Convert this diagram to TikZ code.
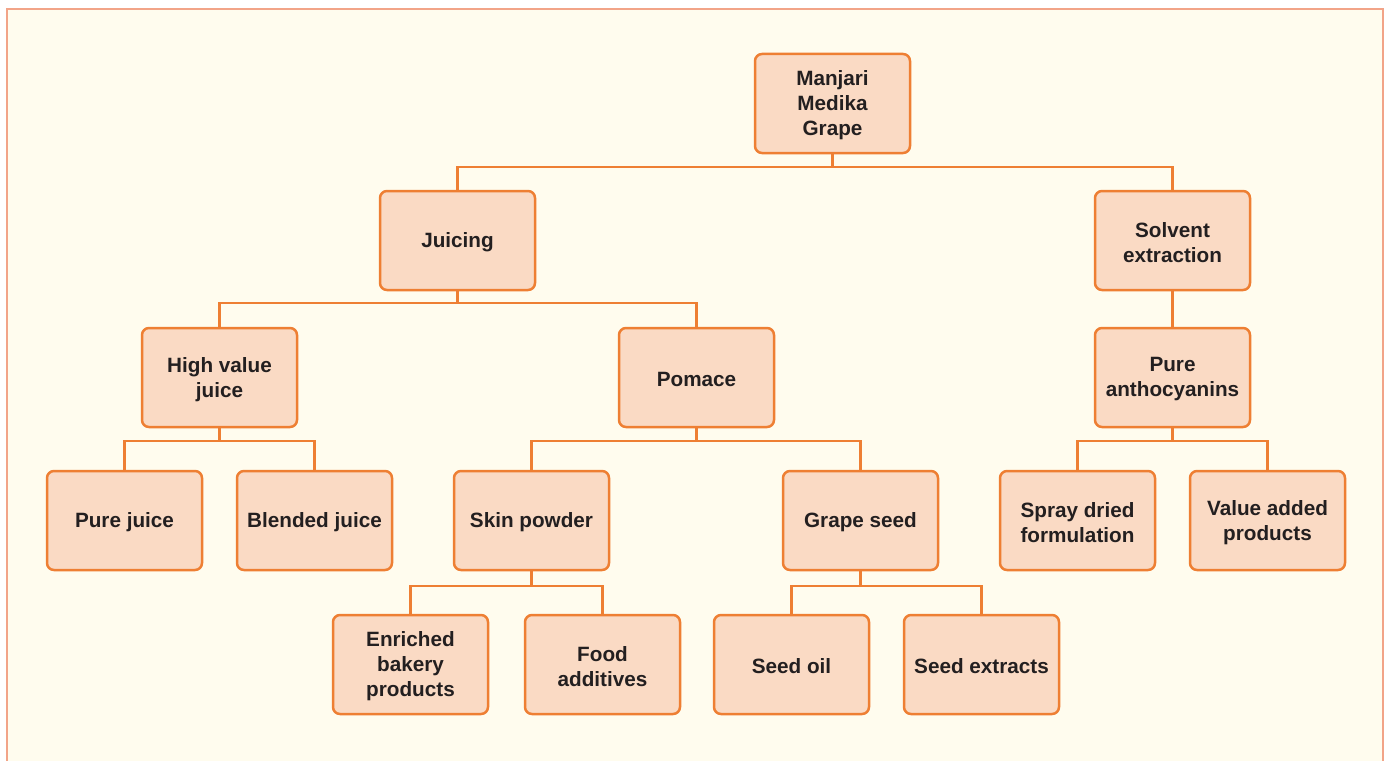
\documentclass[tikz,border=0pt]{standalone}
\usepackage{fontspec}
\setmainfont{Liberation Sans}
\definecolor{bg}{HTML}{FFFCEE}
\definecolor{frame}{HTML}{F2A488}
\definecolor{boxfill}{HTML}{FADAC4}
\definecolor{boxline}{HTML}{EE7F33}
\definecolor{txt}{HTML}{231F20}
\begin{document}
\begin{tikzpicture}[x=1pt,y=-1pt,
  box/.style={draw=boxline,fill=boxfill,line width=2.5pt,rounded corners=7pt,
    minimum width=155pt,minimum height=99pt,inner sep=2pt,align=center,
    text width=150pt,text=txt,font=\fontsize{20.7}{25}\selectfont\bfseries},
  lbl/.style={text=txt,align=center,font=\fontsize{20.7}{25}\selectfont\bfseries},
  link/.style={draw=boxline,line width=2.5pt}]
\useasboundingbox (0,0) rectangle (1388,760);
\fill[white] (0,0) rectangle (1388,760);
\fill[bg] (7,9) rectangle (1383,770);
\draw[frame,line width=2pt] (7,770) -- (7,9) -- (1383,9) -- (1383,770);

\node[box] (root) at (832.5,103.5) {};
\node[box] (juic) at (457.5,240.5) {};
\node[box] (solv) at (1172.5,240.5) {};
\node[box] (hvj) at (219.5,377.5) {};
\node[box] (pom) at (696.5,377.5) {};
\node[box] (pant) at (1172.5,377.5) {};
\node[box] (pj) at (124.5,520.5) {};
\node[box] (bj) at (314.5,520.5) {};
\node[box] (skin) at (531.5,520.5) {};
\node[box] (seed) at (860.5,520.5) {};
\node[box] (spray) at (1077.5,520.5) {};
\node[box] (vap) at (1267.5,520.5) {};
\node[box] (enr) at (410.5,664.5) {};
\node[box] (food) at (602.5,664.5) {};
\node[box] (oil) at (791.5,664.5) {};
\node[box] (ext) at (981.5,664.5) {};

\node[lbl] at ([yshift=-2pt]root.center) {Manjari\\Medika\\Grape};
\node[lbl] at ([yshift=-2pt]juic.center) {Juicing};
\node[lbl] at ([yshift=-2pt]solv.center) {Solvent\\extraction};
\node[lbl] at ([yshift=-2pt]hvj.center) {High value\\juice};
\node[lbl] at ([yshift=-2pt]pom.center) {Pomace};
\node[lbl] at ([yshift=-2pt]pant.center) {Pure\\anthocyanins};
\node[lbl] at ([yshift=-2pt]pj.center) {Pure juice};
\node[lbl] at ([yshift=-2pt]bj.center) {Blended juice};
\node[lbl] at ([yshift=-2pt]skin.center) {Skin powder};
\node[lbl] at ([yshift=-2pt]seed.center) {Grape seed};
\node[lbl] at ([yshift=-2pt]spray.center) {Spray dried\\formulation};
\node[lbl] at ([yshift=-2pt]vap.center) {Value added\\products};
\node[lbl] at ([yshift=-2pt]enr.center) {Enriched\\bakery\\products};
\node[lbl] at ([yshift=-2pt]food.center) {Food\\additives};
\node[lbl] at ([yshift=-2pt]oil.center) {Seed oil};
\node[lbl] at ([yshift=-2pt]ext.center) {Seed extracts};

\coordinate (b1) at (0,167);
\coordinate (b2) at (0,303);
\coordinate (b3) at (0,441);
\coordinate (b4) at (0,586);

\draw[link] (root.south) -- (root.south |- b1);
\draw[link] (juic.north) -- (juic.north |- b1) -- (solv.north |- b1) -- (solv.north);
\draw[link] (juic.south) -- (juic.south |- b2);
\draw[link] (hvj.north) -- (hvj.north |- b2) -- (pom.north |- b2) -- (pom.north);
\draw[link] (solv.south) -- (pant.north);
\draw[link] (hvj.south) -- (hvj.south |- b3);
\draw[link] (pj.north) -- (pj.north |- b3) -- (bj.north |- b3) -- (bj.north);
\draw[link] (pom.south) -- (pom.south |- b3);
\draw[link] (skin.north) -- (skin.north |- b3) -- (seed.north |- b3) -- (seed.north);
\draw[link] (pant.south) -- (pant.south |- b3);
\draw[link] (spray.north) -- (spray.north |- b3) -- (vap.north |- b3) -- (vap.north);
\draw[link] (skin.south) -- (skin.south |- b4);
\draw[link] (enr.north) -- (enr.north |- b4) -- (food.north |- b4) -- (food.north);
\draw[link] (seed.south) -- (seed.south |- b4);
\draw[link] (oil.north) -- (oil.north |- b4) -- (ext.north |- b4) -- (ext.north);
\end{tikzpicture}
\end{document}
